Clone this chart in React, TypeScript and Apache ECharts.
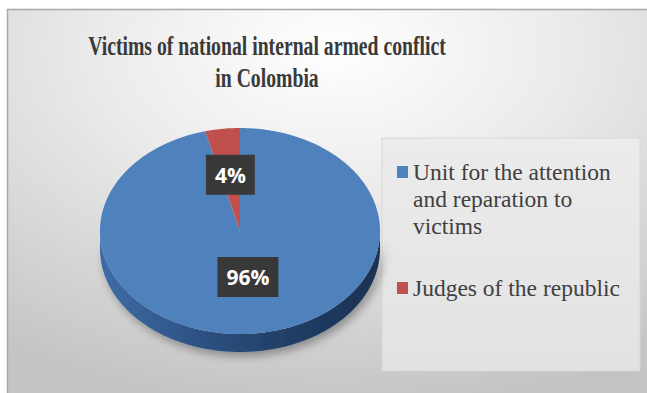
import React, { useEffect, useRef } from "react";
import * as echarts from "echarts";

const titleLines = ["Victims of national internal armed conflict", "in Colombia"];
const categories = ["Unit for the attention and reparation to victims", "Judges of the republic"];
const legendLines = [["Unit for the attention", "and reparation to", "victims"], ["Judges of the republic"]];
const values = [96, 4];
const colors = ["#4f81bd", "#c0504d"];

const W = 647;
const H = 393;
const CX = 240;
const CY = 231;
const RX = 140;
const RY = 103;
const DEPTH = 18;

const total = values.reduce((a, b) => a + b, 0);
const starts: number[] = [];
{
  let acc = 0;
  values.forEach((v) => {
    starts.push((acc / total) * 360);
    acc += v;
  });
}

function pt(deg: number, dy = 0): number[] {
  const r = (deg * Math.PI) / 180;
  return [CX + RX * Math.sin(r), CY - RY * Math.cos(r) + dy];
}

function arc(a0: number, a1: number, dy = 0): number[][] {
  const pts: number[][] = [];
  const n = Math.max(2, Math.ceil(Math.abs(a1 - a0)));
  for (let k = 0; k <= n; k++) pts.push(pt(a0 + ((a1 - a0) * k) / n, dy));
  return pts;
}

export default function App() {
  const ref = useRef<HTMLDivElement>(null);
  useEffect(() => {
    if (!ref.current) return;
    const chart = echarts.init(ref.current, undefined, { renderer: "svg" });
    const data = values.map((v, i) => ({ value: v, name: categories[i] }));

    const legendGraphics: any[] = [];
    let ly = 172;
    legendLines.forEach((lines, i) => {
      legendGraphics.push({
        type: "rect",
        shape: { x: 397, y: ly - 6, width: 11, height: 12 },
        style: { fill: colors[i] },
        z: 5,
      });
      lines.forEach((t, j) => {
        legendGraphics.push({
          type: "text",
          x: 413,
          y: ly + j * 27,
          style: {
            text: t,
            font: "23.5px 'Liberation Serif', serif",
            fill: "#404040",
            textVerticalAlign: "middle",
          },
          z: 5,
        });
      });
      ly += 116;
    });

    chart.setOption({
      animation: false,
      graphic: [
        {
          type: "rect",
          shape: { x: 7.5, y: 9.5, width: 650, height: 400 },
          style: {
            fill: {
              type: "radial",
              x: 0.5,
              y: 0.1,
              r: 0.9,
              colorStops: [
                { offset: 0, color: "#ffffff" },
                { offset: 0.4, color: "#ebebeb" },
                { offset: 1, color: "#c4c4c4" },
              ],
            },
            stroke: "#a8a8a8",
            lineWidth: 1.5,
          },
          z: -10,
        },
        {
          type: "rect",
          shape: { x: 382, y: 138, width: 258, height: 233 },
          style: {
            fill: {
              type: "linear",
              x: 0,
              y: 0,
              x2: 0,
              y2: 1,
              colorStops: [
                { offset: 0, color: "#ececec" },
                { offset: 1, color: "#e2e2e2" },
              ],
            },
            stroke: "#d6d6d6",
            lineWidth: 1,
          },
          z: -5,
        },
        ...titleLines.map((t, i) => ({
          type: "text",
          x: 267,
          y: 46 + i * 32,
          scaleX: 0.73,
          style: {
            text: t,
            font: "bold 27px 'Liberation Serif', serif",
            fill: "#3a3a3a",
            textAlign: "center",
            textVerticalAlign: "middle",
          },
          z: 5,
        })),
        ...legendGraphics,
      ],
      series: [
        {
          type: "custom",
          coordinateSystem: "none",
          z: 1,
          data,
          renderItem: (params: any) => {
            const i = params.dataIndex;
            const a0 = starts[i];
            const a1 = a0 + (values[i] / total) * 360;
            const s = Math.max(a0, 90);
            const e = Math.min(a1, 270);
            if (e <= s) return { type: "group", children: [] };
            const pts = [...arc(s, e, 0), ...arc(e, s, DEPTH)];
            return {
              type: "polygon",
              shape: { points: pts },
              style: {
                fill: {
                  type: "linear",
                  x: 0,
                  y: 0,
                  x2: 1,
                  y2: 0,
                  colorStops: [
                    { offset: 0, color: "#3f6ca6" },
                    { offset: 0.35, color: "#2d5283" },
                    { offset: 0.7, color: "#203c63" },
                    { offset: 1, color: "#1c3252" },
                  ],
                },
                shadowBlur: 10,
                shadowColor: "rgba(0,0,0,0.35)",
                shadowOffsetX: 3,
                shadowOffsetY: 4,
              },
            };
          },
        },
        {
          type: "custom",
          coordinateSystem: "none",
          z: 2,
          data,
          renderItem: (params: any) => {
            const i = params.dataIndex;
            const a0 = starts[i];
            const a1 = a0 + (values[i] / total) * 360;
            return {
              type: "polygon",
              shape: { points: [[CX, CY], ...arc(a0, a1, 0)] },
              style: { fill: colors[i] },
            };
          },
        },
        {
          type: "custom",
          coordinateSystem: "none",
          z: 3,
          data,
          renderItem: (params: any) => {
            const i = params.dataIndex;
            const a0 = starts[i];
            const mid = a0 + (values[i] / total) * 180;
            const f = values[i] / total > 0.5 ? 0.45 : 0.55;
            const r = (mid * Math.PI) / 180;
            const x = CX + RX * f * Math.sin(r);
            const y = CY - RY * f * Math.cos(r);
            const pct = Math.round((values[i] / total) * 100) + "%";
            return {
              type: "text",
              x,
              y,
              style: {
                text: pct,
                font: "bold 21px 'Open Sans', sans-serif",
                fill: "#ffffff",
                textAlign: "center",
                textVerticalAlign: "middle",
                backgroundColor: "#383838",
                padding: [7, 9, 7, 9],
                lineHeight: 26,
                boxShadowBlur: 6,
                boxShadowColor: "rgba(0,0,0,0.45)",
                boxShadowOffsetX: 2,
                boxShadowOffsetY: 2,
              },
            };
          },
        },
      ],
    });
    return () => chart.dispose();
  }, []);
  return (
    <div
      ref={ref}
      style={{ position: "fixed", left: 0, top: 0, width: W, height: H, background: "#ffffff" }}
    />
  );
}
